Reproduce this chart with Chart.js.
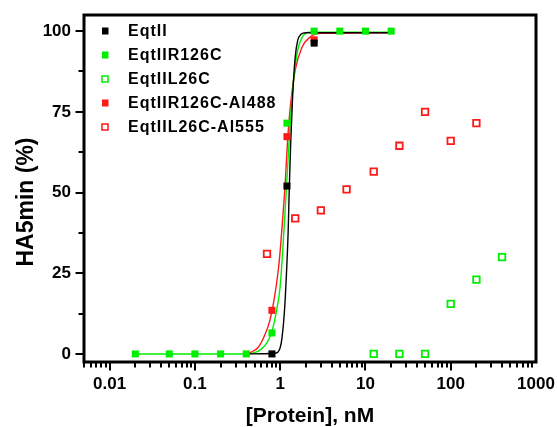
<!DOCTYPE html>
<html lang="en">
<head>
  <meta charset="UTF-8" />
  <title>HA5min vs protein</title>
  <script src="https://cdn.jsdelivr.net/npm/chart.js@4.4.0/dist/chart.umd.min.js"></script>
  <style>
    body { margin: 0; background: #fff; }
  </style>
</head>
<body>
  <canvas id="chart" width="557" height="427"></canvas>
  <script>
    // measured points
    var xEqtII = [0.8, 1.2, 2.5];
    var yEqtII = [0, 52, 96.3];
    var xR126C = [0.02, 0.05, 0.1, 0.2, 0.4, 0.8, 1.2, 2.5, 5, 10, 20];
    var yR126C = [0, 0, 0, 0, 0, 6.5, 71.5, 100, 100, 100, 100];
    var xL26C = [12.5, 25, 50, 100, 200, 400];
    var yL26C = [0, 0, 0, 15.5, 23, 30];
    var xR126CAl = [0.8, 1.2, 2.5];
    var yR126CAl = [13.5, 67.3, 97.3];
    var xL26CAl = [0.7, 1.5, 3, 6, 12.5, 25, 50, 100, 200];
    var yL26CAl = [31, 42, 44.5, 51, 56.5, 64.5, 75, 66, 71.5];

    // fitted curves
    var fitXEqtII = [0.4, 0.9, 1.0, 1.05, 1.12, 1.18, 1.24, 1.28, 1.33, 1.4, 1.5, 1.6, 1.75, 2, 20];
    var fitYEqtII = [0, 0.3, 2, 5, 13, 24, 38, 52, 66, 80, 92, 97, 99, 99.5, 99.5];
    var fitXR126C = [0.02, 0.4, 0.5, 0.6, 0.7, 0.8, 0.9, 1.0, 1.07, 1.17, 1.3, 1.45, 1.6, 1.8, 2.2, 20];
    var fitYR126C = [0, 0, 0.4, 1.5, 3.5, 7, 13, 21, 32, 49, 70, 86, 94, 98, 99.7, 99.7];
    var fitXR126CAl = [0.4, 0.45, 0.55, 0.65, 0.75, 0.85, 0.95, 1.0, 1.07, 1.14, 1.22, 1.32, 1.5, 1.8, 2.2, 3, 20];
    var fitYR126CAl = [0, 0.5, 2, 5.5, 10, 17, 26, 32, 42, 52, 66, 77, 88, 95, 98, 99.3, 99.5];

    var xTickLabels = [0.01, 0.1, 1, 10, 100, 1000];
    var yTickLabels = [0, 25, 50, 75, 100];

    var GREEN = "#00ee00";
    var RED = "#ff1a1a";
    var FONT = "'Liberation Sans', Arial, sans-serif";

    function pts(xs, ys) {
      return xs.map(function (x, i) { return { x: x, y: ys[i] }; });
    }

    function pointSet(label, xs, ys, color, open) {
      return {
        label: label,
        data: pts(xs, ys),
        showLine: false,
        pointStyle: "rect",
        pointRadius: open ? 4.6 : 5,
        borderWidth: open ? 1.8 : 0,
        borderColor: color,
        backgroundColor: open ? "#fff" : color,
        legend: { open: open },
        order: 0,
      };
    }

    function curveSet(xs, ys, color, order) {
      return {
        data: pts(xs, ys),
        showLine: true,
        pointRadius: 0,
        borderColor: color,
        borderWidth: 1.4,
        cubicInterpolationMode: "monotone",
        order: order,
      };
    }

    // frame, ticks, legend and axis titles
    var decor = {
      id: "decor",
      afterDraw: function (chart) {
        var ctx = chart.ctx;
        var a = chart.chartArea;
        var xs = chart.scales.x;
        var ys = chart.scales.y;
        ctx.save();
        ctx.strokeStyle = "#000";
        ctx.lineWidth = 2;
        ctx.beginPath();
        // x ticks
        for (var e = -3; e < 3; e++) {
          for (var k = 1; k <= 9; k++) {
            var v = k * Math.pow(10, e);
            if (v < xs.min || v > xs.max) continue;
            var px = Math.round(xs.getPixelForValue(v));
            var len = k === 1 ? 7 : 4;
            ctx.moveTo(px, a.bottom);
            ctx.lineTo(px, a.bottom + 1.5 + len);
          }
        }
        // y ticks
        for (var t = 0; t <= 100; t += 12.5) {
          var py = Math.round(ys.getPixelForValue(t));
          var l = t % 25 === 0 ? 7 : 4;
          ctx.moveTo(a.left, py);
          ctx.lineTo(a.left - 1.5 - l, py);
        }
        ctx.stroke();

        ctx.lineWidth = 3;
        ctx.strokeRect(a.left, a.top, a.right - a.left, a.bottom - a.top);

        // legend
        ctx.font = "bold 16px " + FONT;
        ctx.letterSpacing = "1px";
        ctx.textBaseline = "middle";
        ctx.textAlign = "left";
        ctx.fillStyle = "#000";
        var row = 0;
        chart.data.datasets.forEach(function (ds) {
          if (!ds.label) return;
          var y = 31 + row * 24;
          if (ds.legend.open) {
            ctx.lineWidth = 1.5;
            ctx.strokeStyle = ds.borderColor;
            ctx.strokeRect(102, y - 3, 6, 6);
          } else {
            ctx.fillStyle = ds.backgroundColor;
            ctx.fillRect(102, y - 3.5, 6.5, 7);
          }
          ctx.fillStyle = "#000";
          ctx.fillText(ds.label, 128, y + 1);
          row++;
        });

        // axis titles
        ctx.letterSpacing = "0px";
        ctx.textAlign = "center";
        ctx.textBaseline = "alphabetic";
        ctx.font = "bold 21px " + FONT;
        ctx.fillText("[Protein], nM", 310, 422);
        ctx.translate(33, 202);
        ctx.rotate(-Math.PI / 2);
        ctx.font = "bold 23px " + FONT;
        ctx.fillText("HA5min (%)", 0, 0);
        ctx.restore();
      },
    };

    var ctx = document.getElementById("chart").getContext("2d");
    var myChart = new Chart(ctx, {
      type: "scatter",
      data: {
        datasets: [
          pointSet("EqtII", xEqtII, yEqtII, "#000", false),
          pointSet("EqtIIR126C", xR126C, yR126C, GREEN, false),
          pointSet("EqtIIL26C", xL26C, yL26C, GREEN, true),
          pointSet("EqtIIR126C-Al488", xR126CAl, yR126CAl, RED, false),
          pointSet("EqtIIL26C-Al555", xL26CAl, yL26CAl, RED, true),
          curveSet(fitXEqtII, fitYEqtII, "#000", 1),
          curveSet(fitXR126C, fitYR126C, GREEN, 2),
          curveSet(fitXR126CAl, fitYR126CAl, RED, 3),
        ],
      },
      options: {
        responsive: false,
        animation: false,
        layout: { padding: { top: 15, right: 21, left: 0, bottom: 0 } },
        plugins: { legend: { display: false }, tooltip: { enabled: false } },
        scales: {
          x: {
            type: "logarithmic",
            min: 0.005,
            max: 1000,
            grid: { display: false, drawTicks: false },
            border: { display: false },
            afterBuildTicks: function (scale) {
              scale.ticks = xTickLabels.map(function (v) { return { value: v }; });
            },
            afterFit: function (scale) {
              scale.height = 65;
              scale.paddingLeft = 0;
              scale.paddingRight = 0;
            },
            ticks: {
              padding: 12,
              color: "#000",
              maxRotation: 0,
              font: { family: FONT, weight: "bold", size: 17 },
              callback: function (v) { return String(v); },
            },
          },
          y: {
            min: -2.5,
            max: 105,
            grid: { display: false, drawTicks: false },
            border: { display: false },
            afterBuildTicks: function (scale) {
              scale.ticks = yTickLabels.map(function (v) { return { value: v }; });
            },
            afterFit: function (scale) {
              scale.width = 84;
              scale.paddingTop = 0;
              scale.paddingBottom = 0;
            },
            ticks: {
              padding: 13,
              color: "#000",
              font: { family: FONT, weight: "bold", size: 17 },
            },
          },
        },
      },
      plugins: [decor],
    });
  </script>
</body>
</html>
